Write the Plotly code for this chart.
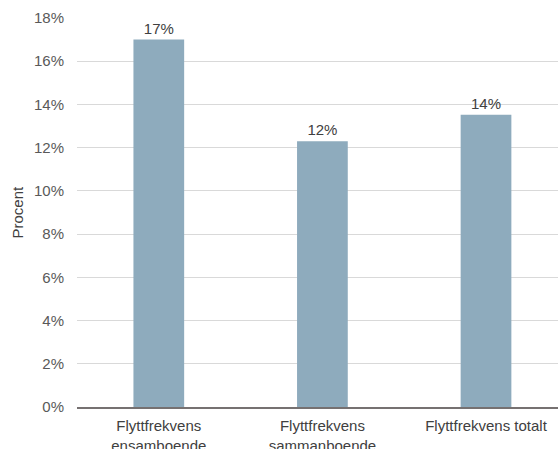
import plotly.graph_objects as go

categories = ["Flyttfrekvens<br>ensamboende", "Flyttfrekvens<br>sammanboende", "Flyttfrekvens totalt"]
values = [17.0, 12.3, 13.52]
y_ticks = [0, 2, 4, 6, 8, 10, 12, 14, 16, 18]
y_ticktext = [f"{v}%" for v in y_ticks]

fig = go.Figure(go.Bar(
    x=list(range(len(categories))),
    y=values,
    width=0.31,
    marker=dict(color="#8eabbd", line=dict(width=0)),
    texttemplate="%{y:.0f}%",
    textposition="outside",
    textfont=dict(family="Liberation Sans, Arial", size=15, color="#404040"),
    cliponaxis=False,
))

fig.update_layout(
    width=558, height=449,
    margin=dict(l=77, r=0, t=18, b=42),
    paper_bgcolor="white", plot_bgcolor="white",
    font=dict(family="Liberation Sans, Arial", size=15, color="#595959"),
    showlegend=False,
    xaxis=dict(
        range=[-0.5, 2.44],
        tickmode="array",
        tickvals=list(range(len(categories))),
        ticktext=categories,
        showgrid=False,
        showline=True, linecolor="#767171", linewidth=2,
        ticks="", zeroline=False,
        automargin=False,
        ticklabelstandoff=4,
        tickfont=dict(size=15, color="#404040"),
    ),
    yaxis=dict(
        range=[0, 18],
        tickmode="array",
        tickvals=y_ticks,
        ticktext=y_ticktext,
        showgrid=True, gridcolor="#d9d9d9", gridwidth=1,
        zeroline=False, showline=False, ticks="",
        automargin=False,
        ticklabelstandoff=12,
        tickfont=dict(size=15, color="#595959"),
    ),
    annotations=[dict(
        text="Procent", textangle=-90,
        xref="paper", yref="paper", x=(17 - 77) / 481, y=0.5,
        xanchor="center", yanchor="middle", showarrow=False,
        font=dict(size=15, color="#404040"),
    )],
)

fig.write_html("out.html")
